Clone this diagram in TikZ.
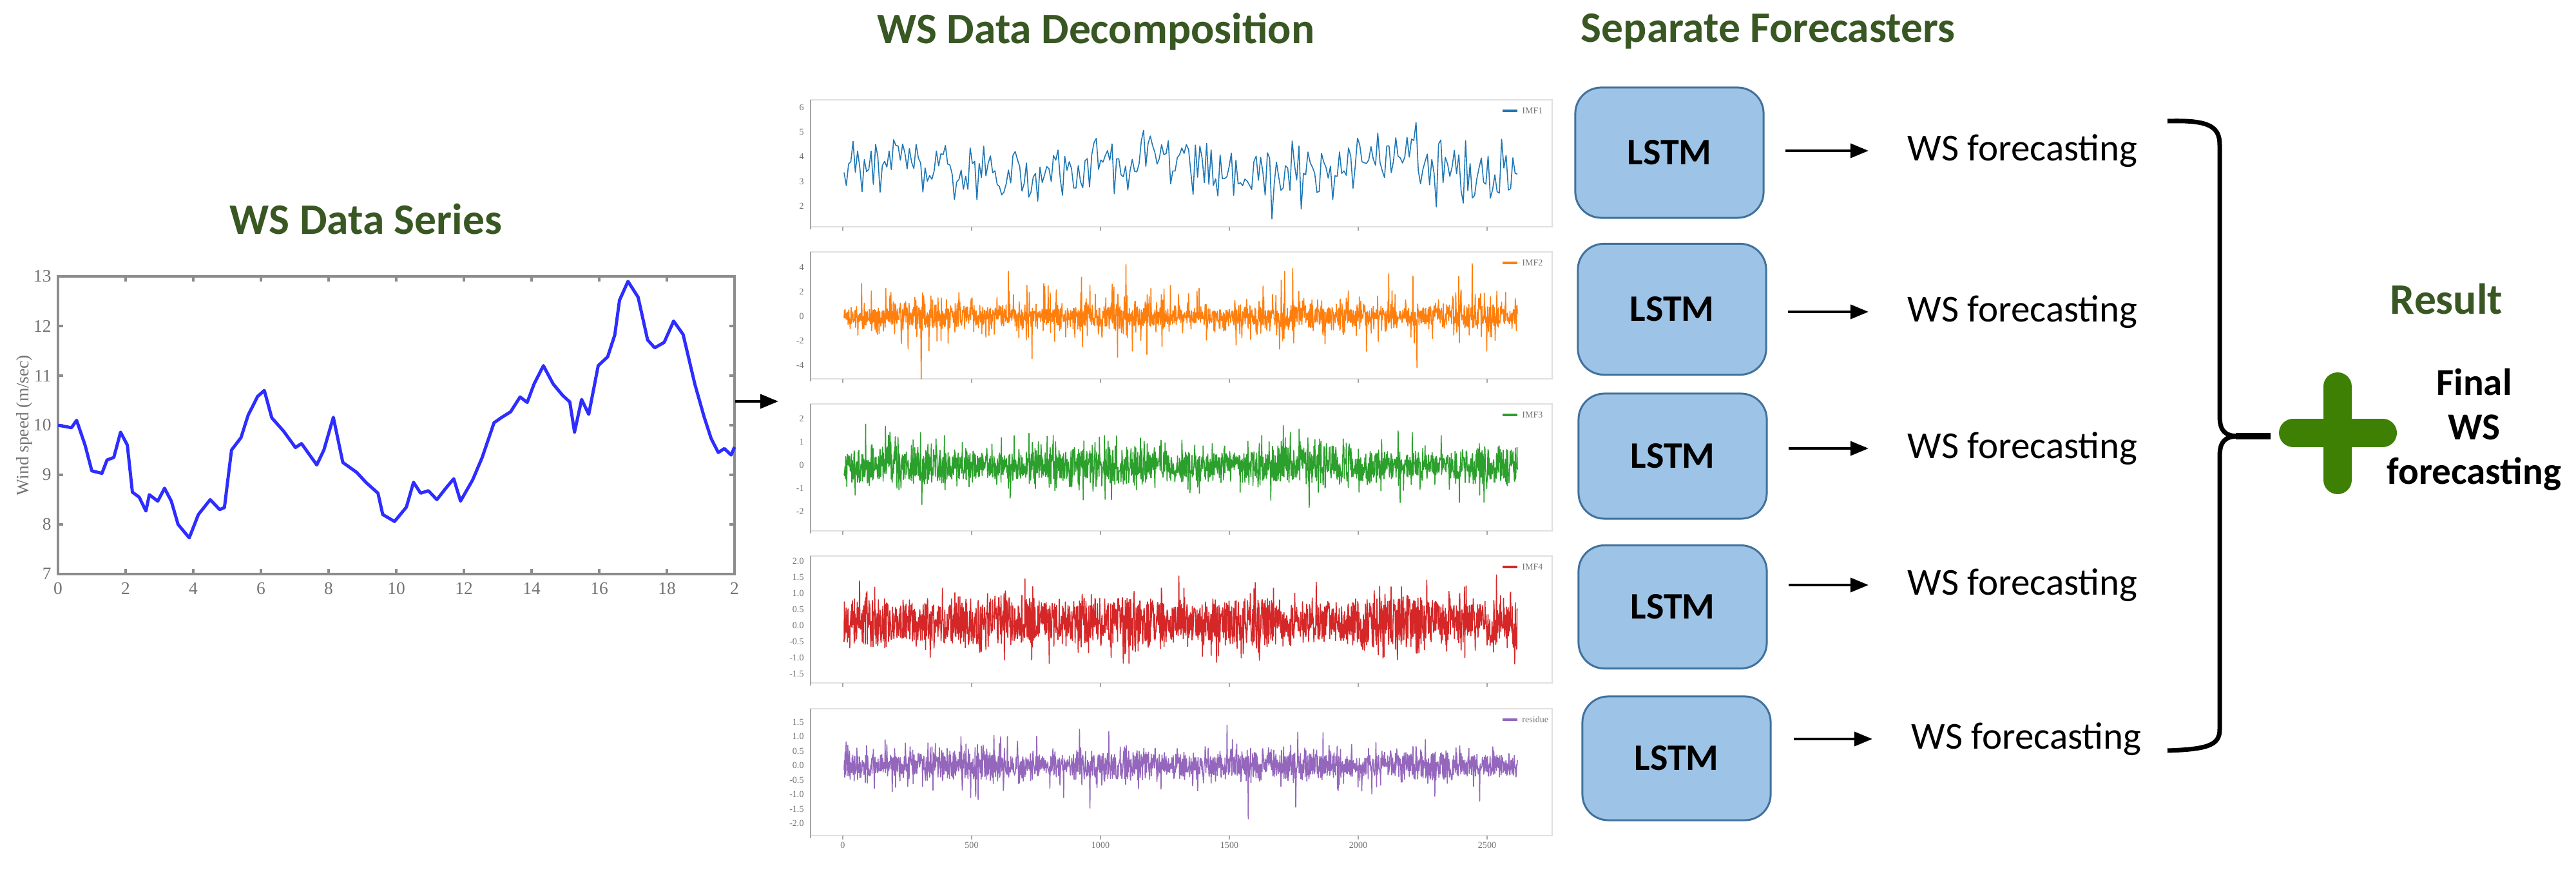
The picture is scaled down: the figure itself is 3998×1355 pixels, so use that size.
\documentclass[tikz,border=0pt]{standalone}
\usepackage{fontspec}
\setmainfont{Carlito}
\newfontfamily\plotfont{Liberation Serif}
\usetikzlibrary{arrows.meta}

\definecolor{headgreen}{RGB}{56,87,35}
\definecolor{plusgreen}{RGB}{62,128,4}
\definecolor{boxfill}{RGB}{157,195,230}
\definecolor{boxline}{RGB}{65,113,156}
\definecolor{wsblue}{RGB}{45,45,255}
\definecolor{imfblue}{RGB}{31,119,180}
\definecolor{imforange}{RGB}{255,127,14}
\definecolor{imfgreen}{RGB}{44,160,44}
\definecolor{imfred}{RGB}{214,39,40}
\definecolor{imfpurple}{RGB}{148,103,189}

\tikzset{
  heading/.style={font=\fontsize{19.2pt}{23pt}\selectfont\bfseries, text=headgreen, inner sep=0pt},
  lstmbox/.style={draw=boxline, fill=boxfill, line width=0.85pt, rounded corners=0.4cm,
    minimum width=2.92cm, minimum height=2cm, font=\fontsize{16.5pt}{20pt}\selectfont\bfseries},
  fctext/.style={font=\fontsize{16.8pt}{20pt}\selectfont, anchor=west, inner sep=0pt},
  fcarrow/.style={-{Triangle[length=0.28cm,width=0.22cm]}, line width=1.1pt},
  finaltext/.style={font=\fontsize{16.8pt}{19.6pt}\selectfont\bfseries, align=center, inner sep=0pt},
  axisgray/.style={draw=black!45, line width=1.1pt},
  ticklab/.style={font=\plotfont\fontsize{7.8pt}{9pt}\selectfont, text=black!55, inner sep=1pt},
  tinylab/.style={font=\plotfont\fontsize{4pt}{5pt}\selectfont, text=black!55, anchor=east, inner sep=0.5pt},
  panelframe/.style={draw=black!12, line width=0.8pt},
  panelaxis/.style={draw=black!35, line width=0.6pt},
  sigline/.style={line width=0.45pt, line join=round},
  wscurve/.style={draw=wsblue, line width=1.4pt, line join=round},
  bracestyle/.style={line width=2pt},
  plusarm/.style={draw=plusgreen, line width=0.44cm, line cap=round}
}

\begin{document}
\begin{tikzpicture}[x=0.01cm, y=-0.01cm]
\fill[white] (0,0) rectangle (3998,1355);
\useasboundingbox (0,0) rectangle (3998,1355);

% headings
\node[heading, anchor=base] (serieshead) at (568,364) {WS Data Series};
\node[heading, anchor=base] (dechead) at (1701,68) {WS Data Decomposition};
\node[heading, anchor=base] (forehead) at (2744,66) {Separate Forecasters};
\node[heading, anchor=base] (resulthead) at (3797,488) {Result};

% wind speed series
\begin{scope}[shift={(90,1430)}, xscale=52.5, yscale=-77]
\draw[axisgray] (0,7) rectangle (20,13);
\foreach \t in {0,2,...,20} {
  \draw[axisgray] (\t,7) -- (\t,7.1);
  \draw[axisgray] (\t,13) -- (\t,12.9);
}
\foreach \t in {0,2,...,18}
  \node[ticklab] at (\t,6.71) {\t};
\node[ticklab] at (20,6.71) {2};
\foreach \v in {7,...,13} {
  \draw[axisgray] (0,\v) -- (0.15,\v);
  \draw[axisgray] (20,\v) -- (19.85,\v);
  \node[ticklab, anchor=east] at (-0.12,\v) {\v};
}
\node[ticklab, rotate=90] at (-1,10) {Wind speed (m/sec)};
\draw[wscurve] plot coordinates {(0,10.0) (0.4,9.95) (0.55,10.1) (0.8,9.6) (1.0,9.08)
  (1.3,9.03) (1.45,9.3) (1.65,9.35) (1.85,9.86) (2.05,9.6) (2.2,8.65) (2.4,8.55)
  (2.6,8.27) (2.7,8.6) (2.95,8.47) (3.15,8.73) (3.35,8.47) (3.55,8.0) (3.88,7.73)
  (4.15,8.2) (4.5,8.5) (4.78,8.3) (4.92,8.34) (5.13,9.5) (5.41,9.75) (5.62,10.2)
  (5.9,10.58) (6.1,10.7) (6.32,10.15) (6.67,9.88) (7.02,9.55) (7.2,9.63) (7.44,9.4)
  (7.65,9.2) (7.86,9.5) (8.14,10.16) (8.42,9.25) (8.83,9.05) (9.1,8.85) (9.46,8.63)
  (9.6,8.2) (9.95,8.06) (10.3,8.35) (10.51,8.85) (10.72,8.63) (10.95,8.68) (11.2,8.5)
  (11.5,8.76) (11.7,8.92) (11.9,8.47) (12.26,8.9) (12.54,9.35) (12.89,10.05)
  (13.1,10.15) (13.38,10.27) (13.66,10.57) (13.87,10.46) (14.08,10.84) (14.35,11.2)
  (14.64,10.83) (14.92,10.6) (15.13,10.47) (15.27,9.86) (15.48,10.52) (15.69,10.22)
  (15.97,11.2) (16.25,11.38) (16.46,11.82) (16.6,12.52) (16.85,12.9) (17.15,12.58)
  (17.43,11.72) (17.64,11.56) (17.92,11.67) (18.2,12.1) (18.48,11.83) (18.83,10.82)
  (19.1,10.17) (19.31,9.73) (19.52,9.45) (19.7,9.53) (19.9,9.4) (20,9.56)};
\end{scope}

\coordinate (seriesout) at (1141,623);
\coordinate (decompin) at (1208,623);
\draw[fcarrow] (seriesout) -- (decompin);

% decomposition panels
\foreach \py/\col/\leg in {155/imfblue/IMF1, 391/imforange/IMF2, 627/imfgreen/IMF3,
                           863/imfred/IMF4, 1100/imfpurple/residue} {
  \draw[panelframe] (1258,\py) rectangle (2409,\py+197);
  \draw[panelaxis] (1258,\py) -- (1258,\py+201);
  \foreach \t in {1308,1508,...,2308}
    \draw[panelaxis] (\t,\py+197) -- (\t,\py+203);
  \draw[\col, line width=1pt] (2332,\py+17) -- (2355,\py+17);
  \node[tinylab, anchor=west] at (2360,\py+17) {\leg};
}
\foreach \y/\v in {167/6, 205/5, 243/4, 282/3, 320/2}
  \node[tinylab] at (1250,\y) {\v};
\foreach \y/\v in {415/4, 453/2, 491/0, 529/-2, 567/-4}
  \node[tinylab] at (1250,\y) {\v};
\foreach \y/\v in {650/2, 686/1, 722/0, 758/-1, 794/-2}
  \node[tinylab] at (1250,\y) {\v};
\foreach \y/\v in {863/2.0, 888/1.5, 913/1.0, 938/0.5, 963/0.0, 988/-0.5, 1013/-1.0, 1038/-1.5}
  \node[tinylab] at (1250,\y+8) {\v};
\foreach \y/\v in {1121/1.5, 1143/1.0, 1166/0.5, 1188/0.0, 1211/-0.5, 1233/-1.0, 1256/-1.5, 1278/-2.0}
  \node[tinylab] at (1250,\y) {\v};
\foreach \t/\v in {1308/0, 1508/500, 1708/1000, 1908/1500, 2108/2000, 2308/2500}
  \node[tinylab, anchor=north] at (\t,1305) {\v};

\pgfmathsetseed{11}
\draw[imfblue, sigline] plot[domain=1310:2355, samples=300]
  (\x, {262 - 14*sin(0.95*(\x-1308)) + 32*rand + 75*rand*rand*rand});
\pgfmathsetseed{23}
\draw[imforange, sigline] plot[domain=1310:2355, samples=2000]
  (\x, {491 + (14+4*sin(1.3*\x))*rand + 115*rand*rand*rand*rand});
\pgfmathsetseed{37}
\draw[imfgreen, sigline] plot[domain=1310:2355, samples=2000]
  (\x, {722 + (24+6*sin(1.1*\x))*rand + 95*rand*rand*rand*rand});
\pgfmathsetseed{41}
\draw[imfred, sigline] plot[domain=1310:2355, samples=2000]
  (\x, {966 + (34+6*sin(1.7*\x))*rand + 90*rand*rand*rand*rand});
\pgfmathsetseed{53}
\draw[imfpurple, sigline] plot[domain=1310:2355, samples=2000]
  (\x, {1188 + (18+4*sin(1.5*\x))*rand + 90*rand*rand*rand*rand});

% separate forecasters
\node[lstmbox, minimum height=2.02cm] (lstm1) at (2591,237) {LSTM};
\node[lstmbox, minimum height=2.03cm] (lstm2) at (2595,480) {LSTM};
\node[lstmbox, minimum height=1.94cm] (lstm3) at (2596,708) {LSTM};
\node[lstmbox, minimum height=1.91cm] (lstm4) at (2596,942) {LSTM};
\node[lstmbox, minimum height=1.92cm] (lstm5) at (2602,1177) {LSTM};

\node[fctext] (fc1) at (2960,234) {WS forecasting};
\node[fctext] (fc2) at (2960,484) {WS forecasting};
\node[fctext] (fc3) at (2960,696) {WS forecasting};
\node[fctext] (fc4) at (2960,908) {WS forecasting};
\node[fctext] (fc5) at (2966,1147) {WS forecasting};

\draw[fcarrow, shorten <=0.32cm, shorten >=0.6cm] (lstm1.east |- fc1.west) -- (fc1.west);
\draw[fcarrow, shorten <=0.32cm, shorten >=0.6cm] (lstm2.east |- fc2.west) -- (fc2.west);
\draw[fcarrow, shorten <=0.32cm, shorten >=0.6cm] (lstm3.east |- fc3.west) -- (fc3.west);
\draw[fcarrow, shorten <=0.32cm, shorten >=0.6cm] (lstm4.east |- fc4.west) -- (fc4.west);
\draw[fcarrow, shorten <=0.34cm, shorten >=0.6cm] (lstm5.east |- fc5.west) -- (fc5.west);

% brace and result
\draw[bracestyle] (3364,188) .. controls (3428,186) and (3445,196) .. (3445,225)
  -- (3445,645) .. controls (3445,668) and (3452,677) .. (3475,677)
  .. controls (3452,677) and (3445,686) .. (3445,709)
  -- (3445,1132) .. controls (3445,1156) and (3428,1163) .. (3364,1165);
\coordinate (bracetip) at (3470,677);
\coordinate (plusleft) at (3524,677);
\draw[line width=3pt] (bracetip) -- (plusleft);

\draw[plusarm] (3628,600) -- (3628,745);
\draw[plusarm] (3559,672) -- (3698,672);

\node[finaltext] (final) at (3840,667) {Final\\WS\\forecasting};
\end{tikzpicture}
\end{document}
